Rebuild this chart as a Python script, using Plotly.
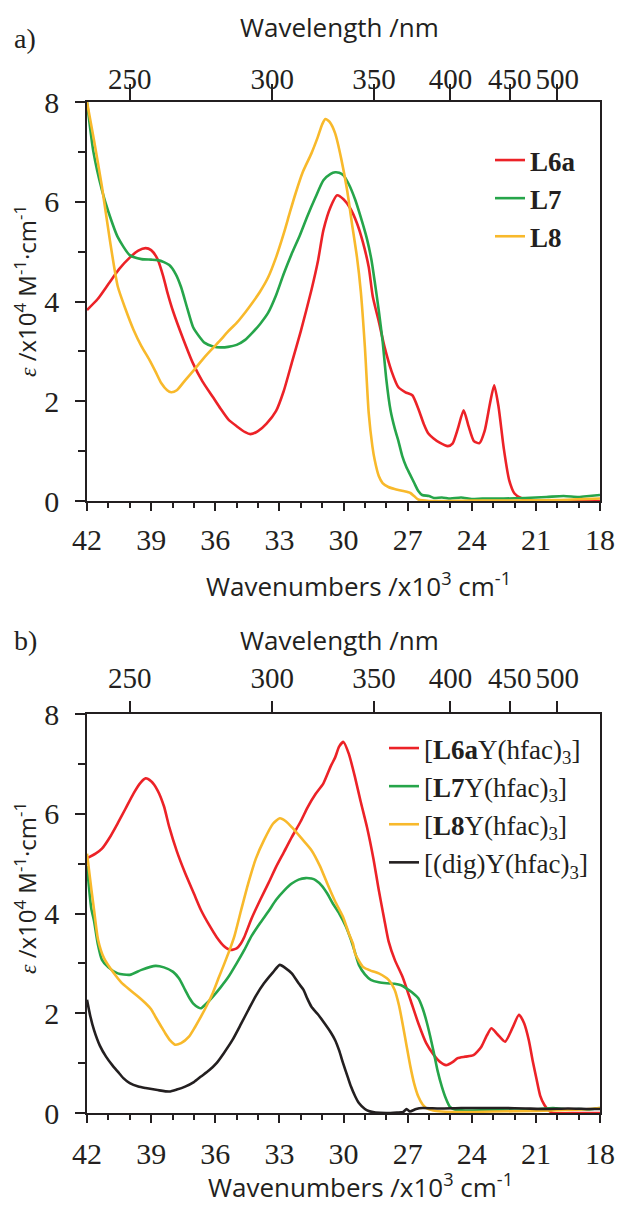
import plotly.graph_objects as go

# ---------------- data (wavenumber in 10^3 cm^-1, epsilon in 10^4 M^-1 cm^-1) -------------
# panel a
l6a_wn = [42, 41.5, 41.0, 40.5, 40.0, 39.6, 39.26, 39.0, 38.7, 38.43, 38.25, 37.97, 37.5, 37.04,
          36.6, 36.12, 35.75, 35.38, 35.0, 34.6, 34.36, 34.0, 33.6, 33.16, 32.8, 32.4, 32.0, 31.5,
          31.2, 30.94, 30.6, 30.3, 30.0, 29.7, 29.37, 29.1, 28.82, 28.63, 28.35, 28.08, 27.75, 27.43,
          27.1, 26.78, 26.5, 26.25, 26.04, 25.8, 25.5, 25.12, 24.9, 24.65, 24.38, 24.15, 23.9, 23.64,
          23.4, 23.15, 22.95, 22.75, 22.5, 22.25, 22.0, 21.7, 21.3, 20.5, 19.5, 18]
l6a_eps = [3.83, 4.05, 4.35, 4.65, 4.88, 5.02, 5.07, 5.03, 4.85, 4.5, 4.2, 3.8, 3.25, 2.76,
           2.4, 2.09, 1.85, 1.63, 1.5, 1.38, 1.34, 1.4, 1.55, 1.8, 2.2, 2.8, 3.4, 4.23,
           4.8, 5.43, 5.9, 6.13, 6.05, 5.88, 5.57, 5.2, 4.69, 4.1, 3.6, 3.09, 2.6, 2.28,
           2.18, 2.12, 1.85, 1.55, 1.36, 1.26, 1.17, 1.1, 1.15, 1.45, 1.82, 1.5, 1.2, 1.16,
           1.4, 1.95, 2.32, 1.9, 1.05, 0.42, 0.15, 0.06, 0.02, 0.0, 0.0, 0.0]

l7_wn = [42, 41.7, 41.3, 41.0, 40.56, 40.0, 39.45, 39.0, 38.7, 38.4, 38.15, 37.85, 37.6, 37.3,
         37.04, 36.75, 36.49, 36.1, 35.75, 35.4, 35.0, 34.6, 34.27, 33.9, 33.53, 33.16, 32.8, 32.4,
         32.05, 31.7, 31.31, 30.94, 30.6, 30.39, 30.2, 30.0, 29.75, 29.46, 29.2, 28.9, 28.7, 28.54,
         28.35, 28.17, 28.0, 27.8, 27.6, 27.43, 27.25, 27.06, 26.85, 26.69, 26.5, 26.32, 26.0, 25.77,
         25.4, 25.0, 24.5, 24.0, 23.5, 22.5, 21.5, 20.5, 19.7, 19.0, 18.5, 18]
l7_eps = [8.0, 7.0, 6.23, 5.8, 5.29, 4.93, 4.85, 4.84, 4.83, 4.79, 4.73, 4.55, 4.29, 3.85,
          3.49, 3.3, 3.17, 3.1, 3.08, 3.09, 3.13, 3.23, 3.37, 3.55, 3.77, 4.12, 4.55, 4.98,
          5.32, 5.7, 6.09, 6.43, 6.56, 6.59, 6.58, 6.53, 6.35, 6.05, 5.7, 5.25, 4.85, 4.4,
          3.82, 3.2, 2.45, 1.82, 1.45, 1.2, 0.9, 0.68, 0.5, 0.36, 0.2, 0.12, 0.1, 0.06,
          0.07, 0.05, 0.07, 0.04, 0.05, 0.05, 0.06, 0.08, 0.1, 0.08, 0.1, 0.12]

l8_wn = [42, 41.67, 41.3, 40.93, 40.56, 40.2, 39.82, 39.45, 39.08, 38.8, 38.52, 38.25, 38.06, 37.8,
         37.41, 36.95, 36.49, 36.1, 35.75, 35.4, 35.0, 34.6, 34.27, 33.9, 33.53, 33.16, 32.79, 32.5,
         32.24, 31.9, 31.5, 31.2, 31.0, 30.85, 30.65, 30.39, 30.1, 29.83, 29.6, 29.37, 29.19, 29.0,
         28.82, 28.65, 28.54, 28.35, 28.17, 27.9, 27.61, 27.2, 26.87, 26.7, 26.5, 26.0, 24.0, 22.0,
         20.0, 18]
l8_eps = [8.0, 7.23, 6.3, 5.23, 4.3, 3.85, 3.43, 3.1, 2.83, 2.6, 2.36, 2.22, 2.18, 2.22,
          2.42, 2.65, 2.89, 3.07, 3.23, 3.4, 3.57, 3.78, 3.97, 4.2, 4.48, 4.88, 5.37, 5.8,
          6.17, 6.6, 6.97, 7.3, 7.55, 7.66, 7.6, 7.37, 6.85, 6.23, 5.55, 4.89, 4.2, 3.09,
          1.76, 1.1, 0.82, 0.5, 0.36, 0.28, 0.24, 0.2, 0.16, 0.1, 0.03, 0.0, 0.01, 0.01,
          0.02, 0.05]

# panel b
l6ay_wn = [42, 41.6, 41.3, 40.9, 40.56, 40.2, 39.82, 39.5, 39.26, 39.0, 38.7, 38.4, 38.15, 37.8,
           37.41, 37.0, 36.67, 36.3, 35.94, 35.6, 35.29, 35.0, 34.8, 34.64, 34.3, 33.9, 33.5, 33.16,
           32.8, 32.42, 32.0, 31.68, 31.3, 30.94, 30.6, 30.39, 30.2, 30.0, 29.75, 29.46, 29.2, 28.9,
           28.6, 28.35, 28.1, 27.89, 27.6, 27.24, 26.87, 26.5, 26.13, 25.77, 25.5, 25.2, 24.9, 24.66,
           24.3, 23.92, 23.55, 23.3, 23.08, 22.8, 22.44, 22.1, 21.79, 21.55, 21.33, 21.15, 20.96, 20.8,
           20.6, 20.4, 20.2, 19.0, 18]
l6ay_eps = [5.11, 5.2, 5.3, 5.55, 5.81, 6.1, 6.41, 6.62, 6.71, 6.65, 6.47, 6.15, 5.73, 5.25,
            4.81, 4.4, 4.07, 3.78, 3.53, 3.35, 3.27, 3.3, 3.4, 3.53, 3.9, 4.27, 4.62, 4.93,
            5.22, 5.53, 5.85, 6.13, 6.4, 6.61, 6.95, 7.13, 7.35, 7.44, 7.2, 6.73, 6.25, 5.73,
            5.1, 4.47, 3.9, 3.44, 3.07, 2.73, 2.27, 1.8, 1.4, 1.16, 1.03, 0.96, 1.02, 1.1,
            1.13, 1.16, 1.33, 1.55, 1.7, 1.58, 1.43, 1.7, 1.97, 1.8, 1.46, 1.05, 0.66, 0.35,
            0.16, 0.05, 0.0, 0.0, 0.0]

l7y_wn = [42, 41.8, 41.67, 41.5, 41.3, 41.0, 40.56, 40.0, 39.45, 38.8, 38.4, 37.97, 37.7, 37.41,
          37.2, 37.04, 36.8, 36.67, 36.4, 36.12, 35.75, 35.38, 35.0, 34.64, 34.3, 33.9, 33.5, 33.16,
          32.8, 32.42, 32.1, 31.77, 31.5, 31.31, 31.0, 30.76, 30.5, 30.2, 29.9, 29.65, 29.45, 29.28,
          29.0, 28.72, 28.35, 27.98, 27.61, 27.3, 27.06, 26.8, 26.5, 26.3, 26.13, 25.95, 25.77, 25.6,
          25.4, 25.2, 25.03, 24.8, 24.3, 23.0, 22.0, 21.0, 20.2, 19.5, 19.0, 18.5, 18]
l7y_eps = [4.95, 4.1, 3.85, 3.4, 3.07, 2.92, 2.8, 2.77, 2.87, 2.95, 2.92, 2.83, 2.7, 2.47,
           2.3, 2.2, 2.12, 2.1, 2.2, 2.33, 2.52, 2.73, 3.0, 3.27, 3.55, 3.81, 4.05, 4.27,
           4.45, 4.6, 4.68, 4.71, 4.7, 4.67, 4.55, 4.4, 4.2, 4.0, 3.75, 3.47, 3.2, 2.97,
           2.78, 2.67, 2.62, 2.6, 2.59, 2.56, 2.5, 2.42, 2.3, 2.1, 1.86, 1.55, 1.2, 0.85,
           0.53, 0.28, 0.13, 0.07, 0.05, 0.06, 0.05, 0.07, 0.1, 0.07, 0.08, 0.07, 0.1]

l8y_wn = [42, 41.8, 41.67, 41.48, 41.2, 40.74, 40.4, 40.0, 39.6, 39.26, 39.0, 38.8, 38.55, 38.34,
          38.1, 37.88, 37.6, 37.23, 36.95, 36.67, 36.4, 36.12, 35.85, 35.57, 35.3, 35.1, 34.8, 34.46,
          34.1, 33.72, 33.3, 32.98, 32.7, 32.42, 31.95, 31.5, 31.1, 30.76, 30.4, 30.02, 29.75, 29.56,
          29.46, 29.09, 28.7, 28.35, 27.89, 27.61, 27.4, 27.24, 27.05, 26.87, 26.7, 26.5, 26.3, 26.13,
          25.8, 25.4, 24.5, 23.0, 21.0, 19.5, 18.5, 18]
l8y_eps = [5.2, 4.5, 4.07, 3.47, 3.1, 2.8, 2.62, 2.47, 2.33, 2.2, 2.08, 1.93, 1.75, 1.6,
           1.45, 1.37, 1.4, 1.53, 1.72, 1.93, 2.15, 2.4, 2.7, 3.0, 3.3, 3.55, 4.05, 4.6,
           5.1, 5.47, 5.8, 5.91, 5.85, 5.73, 5.5, 5.27, 4.95, 4.6, 4.25, 3.93, 3.6, 3.4,
           3.2, 2.93, 2.85, 2.8, 2.67, 2.47, 2.15, 1.8, 1.35, 0.93, 0.6, 0.33, 0.17, 0.1,
           0.05, 0.03, 0.02, 0.03, 0.04, 0.06, 0.08, 0.1]

dig_wn = [42, 41.85, 41.67, 41.4, 41.11, 40.8, 40.56, 40.3, 40.0, 39.6, 39.26, 38.7, 38.15, 37.8,
          37.41, 37.0, 36.67, 36.3, 35.94, 35.6, 35.2, 34.8, 34.46, 34.1, 33.72, 33.3, 32.98, 32.7,
          32.42, 32.1, 31.87, 31.7, 31.5, 31.2, 30.94, 30.6, 30.39, 30.2, 30.02, 29.8, 29.65, 29.45,
          29.28, 29.0, 28.82, 28.5, 28.0, 27.5, 27.2, 27.05, 26.9, 26.6, 26.3, 25.5, 24.5, 23.5,
          22.5, 21.5, 20.5, 19.5, 18.5, 18]
dig_eps = [2.27, 1.95, 1.66, 1.35, 1.13, 0.95, 0.83, 0.7, 0.6, 0.53, 0.5, 0.46, 0.43, 0.47,
           0.53, 0.62, 0.73, 0.85, 1.0, 1.2, 1.46, 1.78, 2.06, 2.35, 2.6, 2.82, 2.97, 2.9,
           2.8, 2.6, 2.47, 2.3, 2.13, 1.98, 1.83, 1.62, 1.46, 1.25, 1.0, 0.72, 0.53, 0.33,
           0.2, 0.08, 0.04, 0.01, 0.0, 0.01, 0.02, 0.08, 0.03, 0.08, 0.1, 0.09, 0.1, 0.1,
           0.1, 0.09, 0.08, 0.09, 0.08, 0.08]

wavelength_ticks = [250, 300, 350, 400, 450, 500]   # nm
names_a = ["<b>L6a</b>", "<b>L7</b>", "<b>L8</b>"]
names_b = ["[<b>L6a</b>Y(hfac)<sub>3</sub>]", "[<b>L7</b>Y(hfac)<sub>3</sub>]",
           "[<b>L8</b>Y(hfac)<sub>3</sub>]", "[(dig)Y(hfac)<sub>3</sub>]"]

RED, GREEN, YELLOW, BLACK = "#EC2227", "#26A54A", "#F8B92B", "#231F20"
AX = "#231F20"
SERIF = "Liberation Serif"
SANS = "Open Sans"

W, H = 619, 1207
def px(x): return x / W
def py(y): return 1 - y / H

fig = go.Figure()
LW = 2.6
for wn, ep, nm, c in [(l6a_wn, l6a_eps, names_a[0], RED), (l7_wn, l7_eps, names_a[1], GREEN),
                      (l8_wn, l8_eps, names_a[2], YELLOW)]:
    fig.add_trace(go.Scatter(x=wn, y=ep, mode="lines", name=nm, line=dict(color=c, width=LW, shape="spline", smoothing=0.6),
                             xaxis="x", yaxis="y", legend="legend"))
for wn, ep, nm, c in [(l6ay_wn, l6ay_eps, names_b[0], RED), (l7y_wn, l7y_eps, names_b[1], GREEN),
                      (l8y_wn, l8y_eps, names_b[2], YELLOW), (dig_wn, dig_eps, names_b[3], BLACK)]:
    fig.add_trace(go.Scatter(x=wn, y=ep, mode="lines", name=nm, line=dict(color=c, width=LW, shape="spline", smoothing=0.6),
                             xaxis="x3", yaxis="y2", legend="legend2"))
# invisible traces to activate top axes
for xa, ya in [("x2", "y"), ("x4", "y2")]:
    fig.add_trace(go.Scatter(x=[42, 18], y=[None, None], mode="lines", showlegend=False,
                             xaxis=xa, yaxis=ya, hoverinfo="skip"))

xdom = [px(87), px(600)]
ydom_a = [py(501), py(102)]
ydom_b = [py(1113), py(714)]

tick_wn = [1e4 / w for w in wavelength_ticks]

def bottom_x(anchor, so):
    return dict(domain=xdom, anchor=anchor, range=[42, 18], tickmode="linear", tick0=0, dtick=3,
                ticks="outside", ticklen=8, tickwidth=1.6, tickcolor=AX, tickangle=0, automargin=False,
                minor=dict(dtick=1, tick0=0, ticks="outside", ticklen=5, tickwidth=1.6, tickcolor=AX),
                showline=True, linewidth=1.6, linecolor=AX, showgrid=False, zeroline=False,
                tickfont=dict(family=SERIF, size=30, color=AX), ticklabelstandoff=so)

def top_x(over, anchor, tl, so):
    return dict(overlaying=over, side="top", anchor=anchor, range=[42, 18], tickmode="array",
                tickvals=tick_wn, ticktext=[str(w) for w in wavelength_ticks], tickangle=0, automargin=False,
                ticks="outside", ticklen=tl, tickwidth=1.6, tickcolor=AX,
                showline=True, linewidth=1.6, linecolor=AX, showgrid=False, zeroline=False,
                tickfont=dict(family=SERIF, size=29, color=AX), ticklabelstandoff=so)

def yax(dom, anchor):
    return dict(domain=dom, anchor=anchor, range=[0, 8], tickmode="linear", tick0=0, dtick=2,
                ticks="outside", ticklen=10, tickwidth=1.6, tickcolor=AX, tickangle=0, automargin=False,
                minor=dict(dtick=1, tick0=0, ticks="outside", ticklen=7, tickwidth=1.6, tickcolor=AX),
                showline=True, mirror=True, linewidth=1.6, linecolor=AX, showgrid=False, zeroline=False,
                tickfont=dict(family=SERIF, size=30, color=AX), ticklabelstandoff=10)

ytitle = ('<span style="font-family:Liberation Serif"><i>ε</i></span> /x10<sup>4</sup> '
          'M<sup>-1</sup>·cm<sup>-1</sup>')

ann = []
def add_text(text, x, y, size, family=SANS, xanchor="center", yanchor="middle", angle=0):
    ann.append(dict(text=text, x=px(x), y=py(y), xref="paper", yref="paper", showarrow=False,
                    xanchor=xanchor, yanchor=yanchor, textangle=angle,
                    font=dict(family=family, size=size, color=AX)))

add_text("a)", 12, 38, 28, SERIF, xanchor="left")
add_text("b)", 12, 640, 28, SERIF, xanchor="left")
add_text("Wavelength /nm", 339, 27, 26)
add_text("Wavelength /nm", 340, 640, 26)
add_text("Wavenumbers /x10<sup>3</sup> cm<sup>-1</sup>", 358, 585, 26)
add_text("Wavenumbers /x10<sup>3</sup> cm<sup>-1</sup>", 360, 1207, 26, yanchor="bottom")
add_text(ytitle, 25, 291, 24, angle=-90)
add_text(ytitle, 25, 888, 24, angle=-90)

fig.update_layout(
    width=W, height=H, margin=dict(l=0, r=0, t=0, b=0, autoexpand=False),
    paper_bgcolor="white", plot_bgcolor="white",
    xaxis=bottom_x("y", 3), xaxis2=top_x("x", "y", 16, -16),
    xaxis3=bottom_x("y2", 5), xaxis4=top_x("x3", "y2", 11, 2),
    yaxis=yax(ydom_a, "x"), yaxis2=yax(ydom_b, "x3"),
    legend=dict(x=px(490), y=py(136), xanchor="left", yanchor="top", bgcolor="rgba(0,0,0,0)",
                font=dict(family=SERIF, size=27, color=AX), tracegroupgap=0),
    legend2=dict(x=px(384), y=py(724), xanchor="left", yanchor="top", bgcolor="rgba(0,0,0,0)",
                 font=dict(family=SERIF, size=27, color=AX), tracegroupgap=0),
    annotations=ann, showlegend=True,
)
fig.write_html("out.html")
